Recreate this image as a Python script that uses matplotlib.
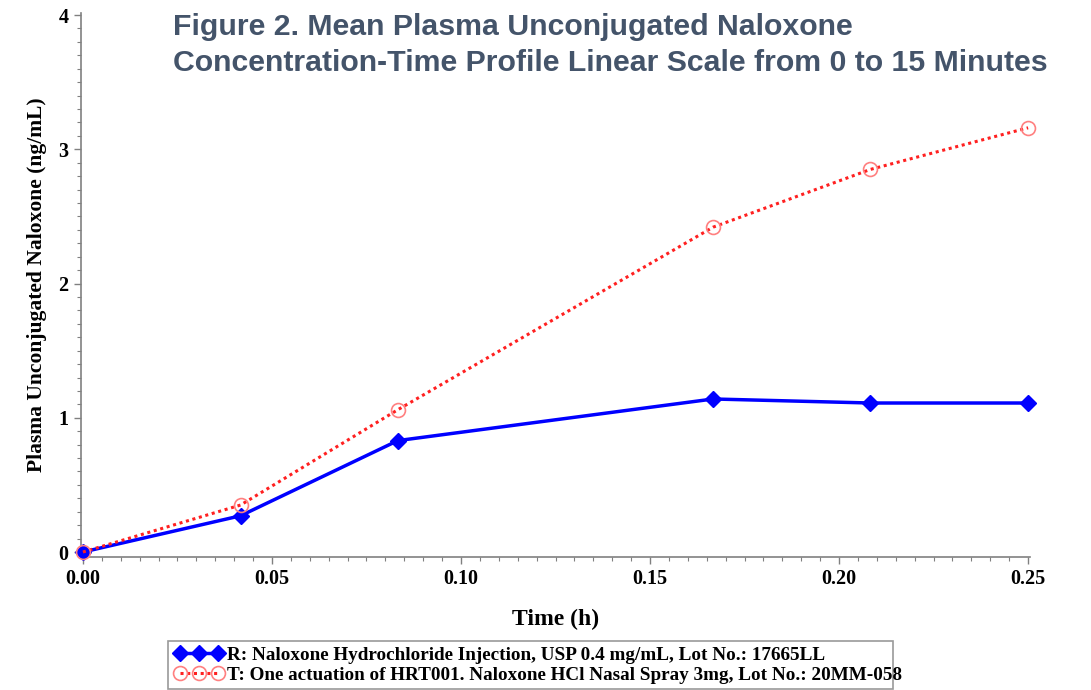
import matplotlib.pyplot as plt
from matplotlib.ticker import MultipleLocator, FormatStrFormatter

# temps (h) et concentrations moyennes (ng/mL)
temps = [0.0, 0.0417, 0.0833, 0.1667, 0.2083, 0.25]
conc_R = [0.0, 0.27, 0.83, 1.14, 1.11, 1.11]
conc_T = [0.0, 0.35, 1.06, 2.42, 2.85, 3.16]

label_R = "R: Naloxone Hydrochloride Injection, USP 0.4 mg/mL, Lot No.: 17665LL"
label_T = "T: One actuation of HRT001. Naloxone HCl Nasal Spray 3mg, Lot No.: 20MM-058"
titre = ("Figure 2. Mean Plasma Unconjugated Naloxone\n"
         "Concentration-Time Profile Linear Scale from 0 to 15 Minutes")

serif = "Liberation Serif"

fig = plt.figure(figsize=(10.91, 6.90), dpi=100)
ax = fig.add_axes([81 / 1091, (690 - 557) / 690, (1030 - 81) / 1091, (557 - 13) / 690])

ax.plot(temps, conc_R, color="#0000ff", lw=2.5, marker="D", ms=8,
        mfc="#0000ff", mec="#0000ff", label=label_R, zorder=3, clip_on=False)
ax.plot(temps, conc_T, color="#ff2020", lw=2.2, ls=(0, (1, 1.2)), marker="o", ms=10,
        mfc="none", mec="#ff8080", mew=1.2, label=label_T, zorder=4, clip_on=False)

ax.set_xlim(-0.0005, 0.2505)
ax.set_ylim(-0.037, 4.015)
ax.xaxis.set_major_locator(MultipleLocator(0.05))
ax.xaxis.set_minor_locator(MultipleLocator(0.005))
ax.yaxis.set_major_locator(MultipleLocator(1))
ax.yaxis.set_minor_locator(MultipleLocator(0.1))
ax.xaxis.set_major_formatter(FormatStrFormatter("%.2f"))
ax.yaxis.set_major_formatter(FormatStrFormatter("%d"))

for s in ["top", "right"]:
    ax.spines[s].set_visible(False)
for s in ["left", "bottom"]:
    ax.spines[s].set_color("#808080")
    ax.spines[s].set_linewidth(1.2)

ax.tick_params(which="major", length=5, width=1, color="#808080", pad=4)
ax.tick_params(which="minor", length=3, width=0.8, color="#808080")
for lab in ax.get_xticklabels() + ax.get_yticklabels():
    lab.set_fontfamily(serif)
    lab.set_fontweight("bold")
    lab.set_fontsize(14.5)

ax.set_xlabel("Time (h)", fontfamily=serif, fontweight="bold", fontsize=17, labelpad=14)
ax.set_ylabel("Plasma Unconjugated Naloxone (ng/mL)", fontfamily=serif,
              fontweight="bold", fontsize=15.5, labelpad=8)

fig.text(173 / 1091, 1 - 13 / 690, titre, ha="left", va="top", fontsize=21.8,
         fontfamily="Liberation Sans", fontweight="bold", color="#44546a",
         linespacing=1.35)

leg = fig.legend(loc="upper left",
                 bbox_to_anchor=(168 / 1091, 1 - 641 / 690 - 0.01, (893 - 168) / 1091, 0.01),
                 mode="expand",
                 prop={"family": serif, "weight": "bold", "size": 13.8},
                 frameon=True, fancybox=False, edgecolor="#808080",
                 handlelength=2.6, handletextpad=0.2, borderpad=0.3, borderaxespad=0,
                 labelspacing=0.1, numpoints=3)
leg.get_frame().set_linewidth(1.2)

plt.savefig("out.png", dpi=100)
